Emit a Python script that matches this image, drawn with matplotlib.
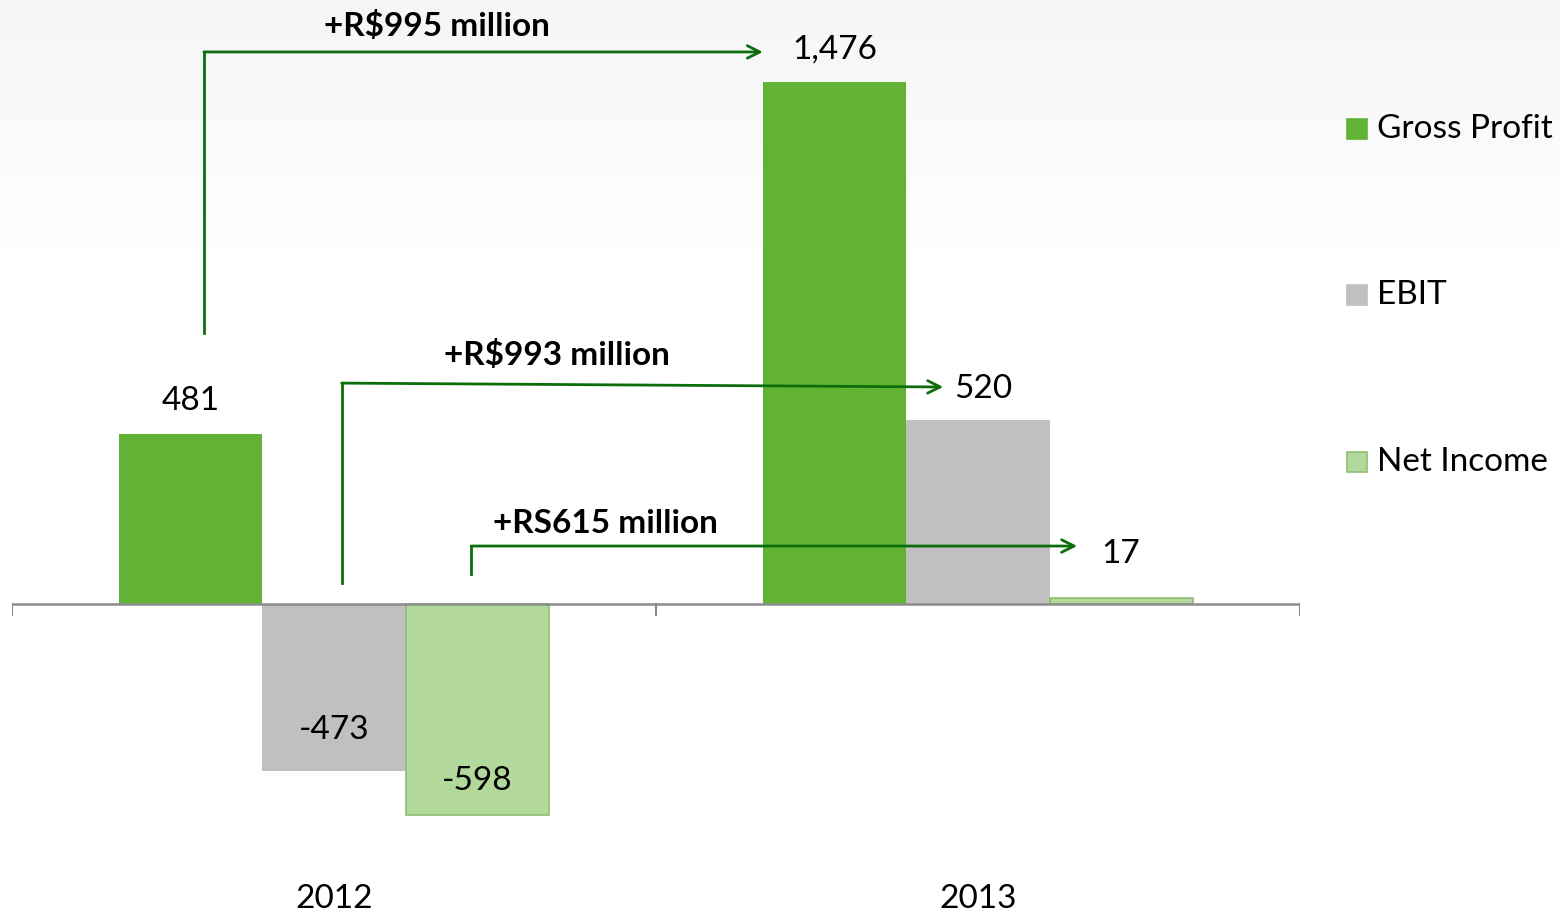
import numpy as np
import matplotlib
matplotlib.use("Agg")
import matplotlib.pyplot as plt
from matplotlib.patches import Rectangle

plt.rcParams['font.family'] = ['Lato', 'DejaVu Sans']

years = ["2012", "2013"]
series = ["Gross Profit", "EBIT", "Net Income"]
gross_profit = [481, 1476]
ebit = [-473, 520]
net_income = [-598, 17]
changes = ["+R$995 million", "+R$993 million", "+RS615 million"]

colors = {"Gross Profit": "#62B236", "EBIT": "#C0C0C0", "Net Income": "#B2D99B"}
edges = {"Gross Profit": "#62B236", "EBIT": "#C0C0C0", "Net Income": "#8DBF70"}
arrow_color = "#0B6E0B"

W, H = 1560, 915
fig = plt.figure(figsize=(W / 100, H / 100), dpi=100)

# background gradient
bg = fig.add_axes([0, 0, 1, 1], zorder=-10)
yy = np.linspace(0, 1, 100)[:, None]
grad = np.clip(0.96 + 0.04 * (yy / 0.3), 0, 1) * np.ones((100, 2))
bg.imshow(grad, cmap="gray", vmin=0, vmax=1, aspect="auto", extent=[0, 1, 1, 0])
bg.set_axis_off()

ax = fig.add_axes([12 / W, 0, 1288 / W, 1])
ax.patch.set_alpha(0)
ax.set_xlim(-0.5, 1.5)
ax.set_ylim(-880, 1709)
ax.set_axis_off()

bw = 1 / 4.5
x = np.arange(len(years))
data = {"Gross Profit": gross_profit, "EBIT": ebit, "Net Income": net_income}
for i, s in enumerate(series):
    xs = x + (i - 1) * bw
    ax.bar(xs, data[s], width=bw, color=colors[s], edgecolor=edges[s],
           linewidth=1.2 if s == "Net Income" else 0, zorder=2)

# axis line and ticks
ax.plot([-0.5, 1.5], [0, 0], color="#8C8C8C", lw=1.8, zorder=3, solid_capstyle="butt")
for t in [-0.5, 0.5, 1.5]:
    ax.plot([t, t], [0, -30], color="#8C8C8C", lw=1.5, zorder=3)

fs = 24
# value labels
ax.text(-bw, 481 + 50, "481", ha="center", va="bottom", fontsize=fs)
ax.text(1 - bw, 1476 + 50, "1,476", ha="center", va="bottom", fontsize=fs)
ax.text(1.008, 520 + 45, "520", ha="center", va="bottom", fontsize=fs)
ax.text(1 + bw, 17 + 82, "17", ha="center", va="bottom", fontsize=fs)
ax.text(0, -356, "-473", ha="center", va="center", fontsize=fs)
ax.text(bw, -500, "-598", ha="center", va="center", fontsize=fs)

# year labels
for xi, yr in zip(x, years):
    ax.text(xi, -835, yr, ha="center", va="center", fontsize=fs)

# change arrows
arrows = [
    ((-0.202, 767), (-0.202, 1562), (0.666, 1562), (0.16, 1635)),
    ((0.012, 59), (0.012, 625), (0.946, 614), (0.346, 705)),
    ((0.213, 85), (0.213, 164), (1.154, 164), (0.421, 229)),
]
for (p0, p1, p2, lab), txt in zip(arrows, changes):
    ax.plot([p0[0], p1[0]], [p0[1], p1[1]], color=arrow_color, lw=2, zorder=4)
    ax.annotate("", xy=p2, xytext=p1,
                arrowprops=dict(arrowstyle="->,head_length=0.9,head_width=0.45",
                                color=arrow_color, lw=2, shrinkA=0, shrinkB=0),
                zorder=4)
    ax.text(lab[0], lab[1], txt, ha="center", va="center", fontsize=fs,
            fontweight="bold")

# legend (manual)
leg_y = [129, 295, 462]
for s, yp in zip(series, leg_y):
    fig.patches.append(Rectangle((1347 / W, 1 - (yp + 10) / H), 20 / W, 20 / H,
                                 transform=fig.transFigure, facecolor=colors[s],
                                 edgecolor=edges[s], linewidth=1.2))
    fig.text(1377 / W, 1 - yp / H, s, ha="left", va="center", fontsize=fs)

fig.savefig("out.png", dpi=100)
